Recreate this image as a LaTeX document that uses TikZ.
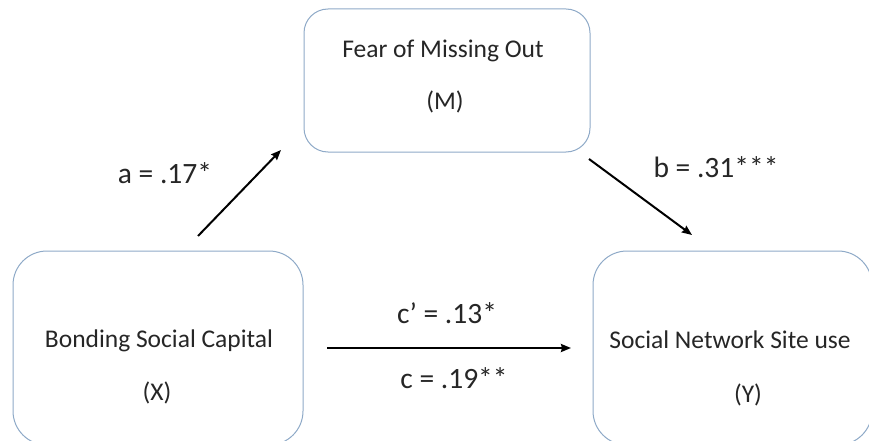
\documentclass[tikz,border=0pt]{standalone}
\usepackage{fontspec}
\setmainfont{Carlito}
\usetikzlibrary{arrows.meta}
\definecolor{boxline}{RGB}{143,170,200}
\definecolor{txt}{RGB}{38,38,38}
\begin{document}
\begin{tikzpicture}[x=1pt,y=-1pt,
  vbox/.style={draw=boxline, line width=1pt, rectangle, inner sep=0pt},
  boxtext/.style={font=\fontsize{25.5}{30}\selectfont, text=txt, anchor=base, inner sep=0pt},
  coef/.style={font=\fontsize{29.5}{34}\selectfont, text=txt, anchor=base, inner sep=0pt},
  arr/.style={line width=2pt, -{Stealth[length=10pt,width=8pt,inset=1pt]}}]
\fill[white] (0,0) rectangle (869,441);
\useasboundingbox (0,0) rectangle (869,441);
\clip (0,0) rectangle (869,441);
% boxes
\node[vbox, rounded corners=24pt, minimum width=286pt, minimum height=143pt] (M) at (447,80.5) {};
\node[vbox, rounded corners=34pt, minimum width=290pt, minimum height=194pt] (X) at (158,348) {};
\node[vbox, rounded corners=34pt, minimum width=279pt, minimum height=194pt] (Y) at (732.5,348) {};
% box texts
\node[boxtext] (Mt) at (443,58) {Fear of Missing Out};
\node[boxtext] (Ml) at (445,110) {(M)};
\node[boxtext] (Xt) at (159,347) {Bonding Social Capital};
\node[boxtext] (Xl) at (157,400) {(X)};
\node[boxtext] (Yt) at (730,348) {Social Network Site use};
\node[boxtext] (Yl) at (748,402) {(Y)};
% arrow end points
\coordinate (a0) at (198,236);
\coordinate (a1) at (281,150);
\coordinate (b0) at (589,159);
\coordinate (b1) at (692,235);
\coordinate (c0) at (327,348);
\coordinate (c1) at (571,348);
\draw[arr] (a0) -- (a1);
\draw[arr] (b0) -- (b1);
\draw[arr] (c0) -- (c1);
% coefficients
\node[coef] (la) at (165,183) {a = .17*};
\node[coef] (lb) at (716,177) {b = .31***};
\node[coef] (lcp) at (447,323) {c’ = .13*};
\node[coef] (lc) at (454,388) {c = .19**};
\end{tikzpicture}
\end{document}
